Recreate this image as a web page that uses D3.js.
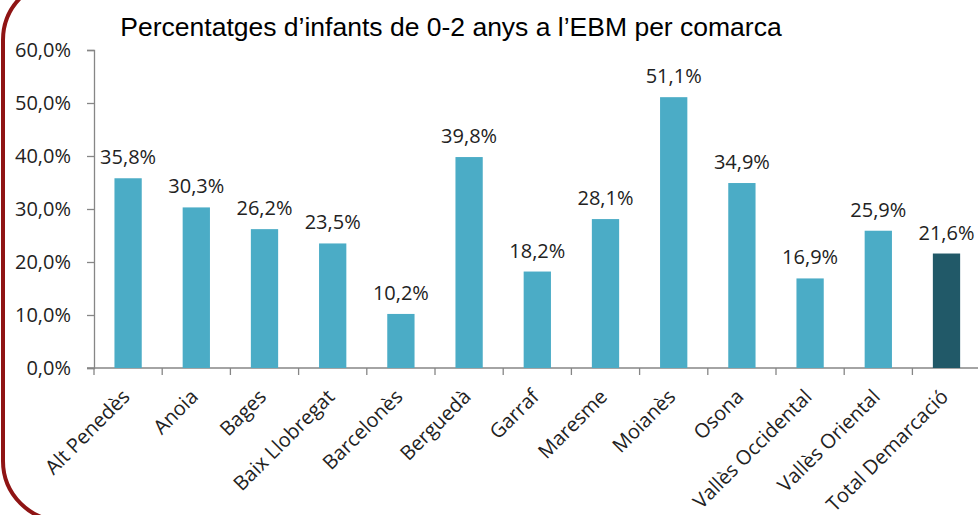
<!DOCTYPE html>
<html>
<head>
<meta charset="utf-8">
<script src="https://cdn.jsdelivr.net/npm/d3@7"></script>
<style>
  body { margin:0; background:#fff; }
  svg { display:block; }
</style>
</head>
<body>
<div id="chart"></div>
<script>
const comarques = ["Alt Penedès","Anoia","Bages","Baix Llobregat","Barcelonès","Berguedà","Garraf","Maresme","Moianès","Osona","Vallès Occidental","Vallès Oriental","Total Demarcació"];
const percentatges = [35.8,30.3,26.2,23.5,10.2,39.8,18.2,28.1,51.1,34.9,16.9,25.9,21.6];
const yTicks = [0,10,20,30,40,50,60];

const width = 978;
const height = 515;

const svg = d3.select("#chart")
    .append("svg")
    .attr("width",width)
    .attr("height",height);

// marc vermell arrodonit
svg.append("rect")
    .attr("x",3).attr("y",-20)
    .attr("width",1200).attr("height",541)
    .attr("rx",60).attr("ry",60)
    .attr("fill","none")
    .attr("stroke","#8f1414")
    .attr("stroke-width",4);

svg.append("text")
    .attr("x",451).attr("y",36)
    .attr("text-anchor","middle")
    .attr("font-family","Liberation Sans, Arial, sans-serif")
    .attr("font-size",26.5)
    .attr("fill","#000")
    .text("Percentatges d\u2019infants de 0-2 anys a l\u2019EBM per comarca");

const x = d3.scaleBand()
    .domain(comarques)
    .range([94, 94 + 13*68.2])
    .paddingInner(0.6)
    .paddingOuter(0.3);

const y = d3.scaleLinear()
    .domain([0,60])
    .range([368,50]);

const fmt = v => d3.format(".1f")(v).replace(".",",") + "%";
const font = "'Open Sans', 'Noto Sans', sans-serif";
const fs = 20;

// eix Y
const yAxis = svg.append("g")
    .attr("transform","translate(94,0)")
    .call(d3.axisLeft(y).tickValues(yTicks).tickSize(7).tickPadding(16).tickFormat(fmt));
yAxis.select(".domain").attr("stroke","#868686").attr("stroke-width",1.3);
yAxis.selectAll(".tick line").attr("stroke","#868686").attr("stroke-width",1.3);
yAxis.selectAll("text")
    .attr("font-family",font)
    .attr("font-size",fs)
    .attr("fill","#222");

// eix X
const xg = svg.append("g");
xg.append("line")
    .attr("x1",87).attr("x2",width)
    .attr("y1",y(0)).attr("y2",y(0))
    .attr("stroke","#868686").attr("stroke-width",1.3);
xg.selectAll("line.tk")
    .data(d3.range(comarques.length+1))
    .enter()
    .append("line")
    .attr("class","tk")
    .attr("x1",i=>94 + i*x.step())
    .attr("x2",i=>94 + i*x.step())
    .attr("y1",y(0)).attr("y2",y(0)+7)
    .attr("stroke","#868686").attr("stroke-width",1.3);

svg.selectAll("rect.bar")
    .data(percentatges)
    .enter()
    .append("rect")
    .attr("class","bar")
    .attr("x",(d,i)=>x(comarques[i]))
    .attr("y",d=>y(d))
    .attr("width",x.bandwidth())
    .attr("height",d=>y(0)-y(d))
    .attr("fill",(d,i)=> i==comarques.length-1 ? "#215968" : "#4bacc6");

svg.selectAll("text.val")
    .data(percentatges)
    .enter()
    .append("text")
    .attr("class","val")
    .attr("x",(d,i)=>x(comarques[i]) + x.bandwidth()/2)
    .attr("y",d=>y(d)-14)
    .attr("text-anchor","middle")
    .attr("font-family",font)
    .attr("font-size",fs)
    .attr("fill","#222")
    .text(fmt);

svg.selectAll("text.cat")
    .data(comarques)
    .enter()
    .append("text")
    .attr("class","cat")
    .attr("transform",d=>{
        const cx = x(d) + x.bandwidth()/2 + 3;
        return "translate("+cx+","+(y(0)+30)+") rotate(-45)";
    })
    .attr("text-anchor","end")
    .attr("font-family",font)
    .attr("font-size",fs)
    .attr("fill","#222")
    .text(d=>d);
</script>
</body>
</html>
